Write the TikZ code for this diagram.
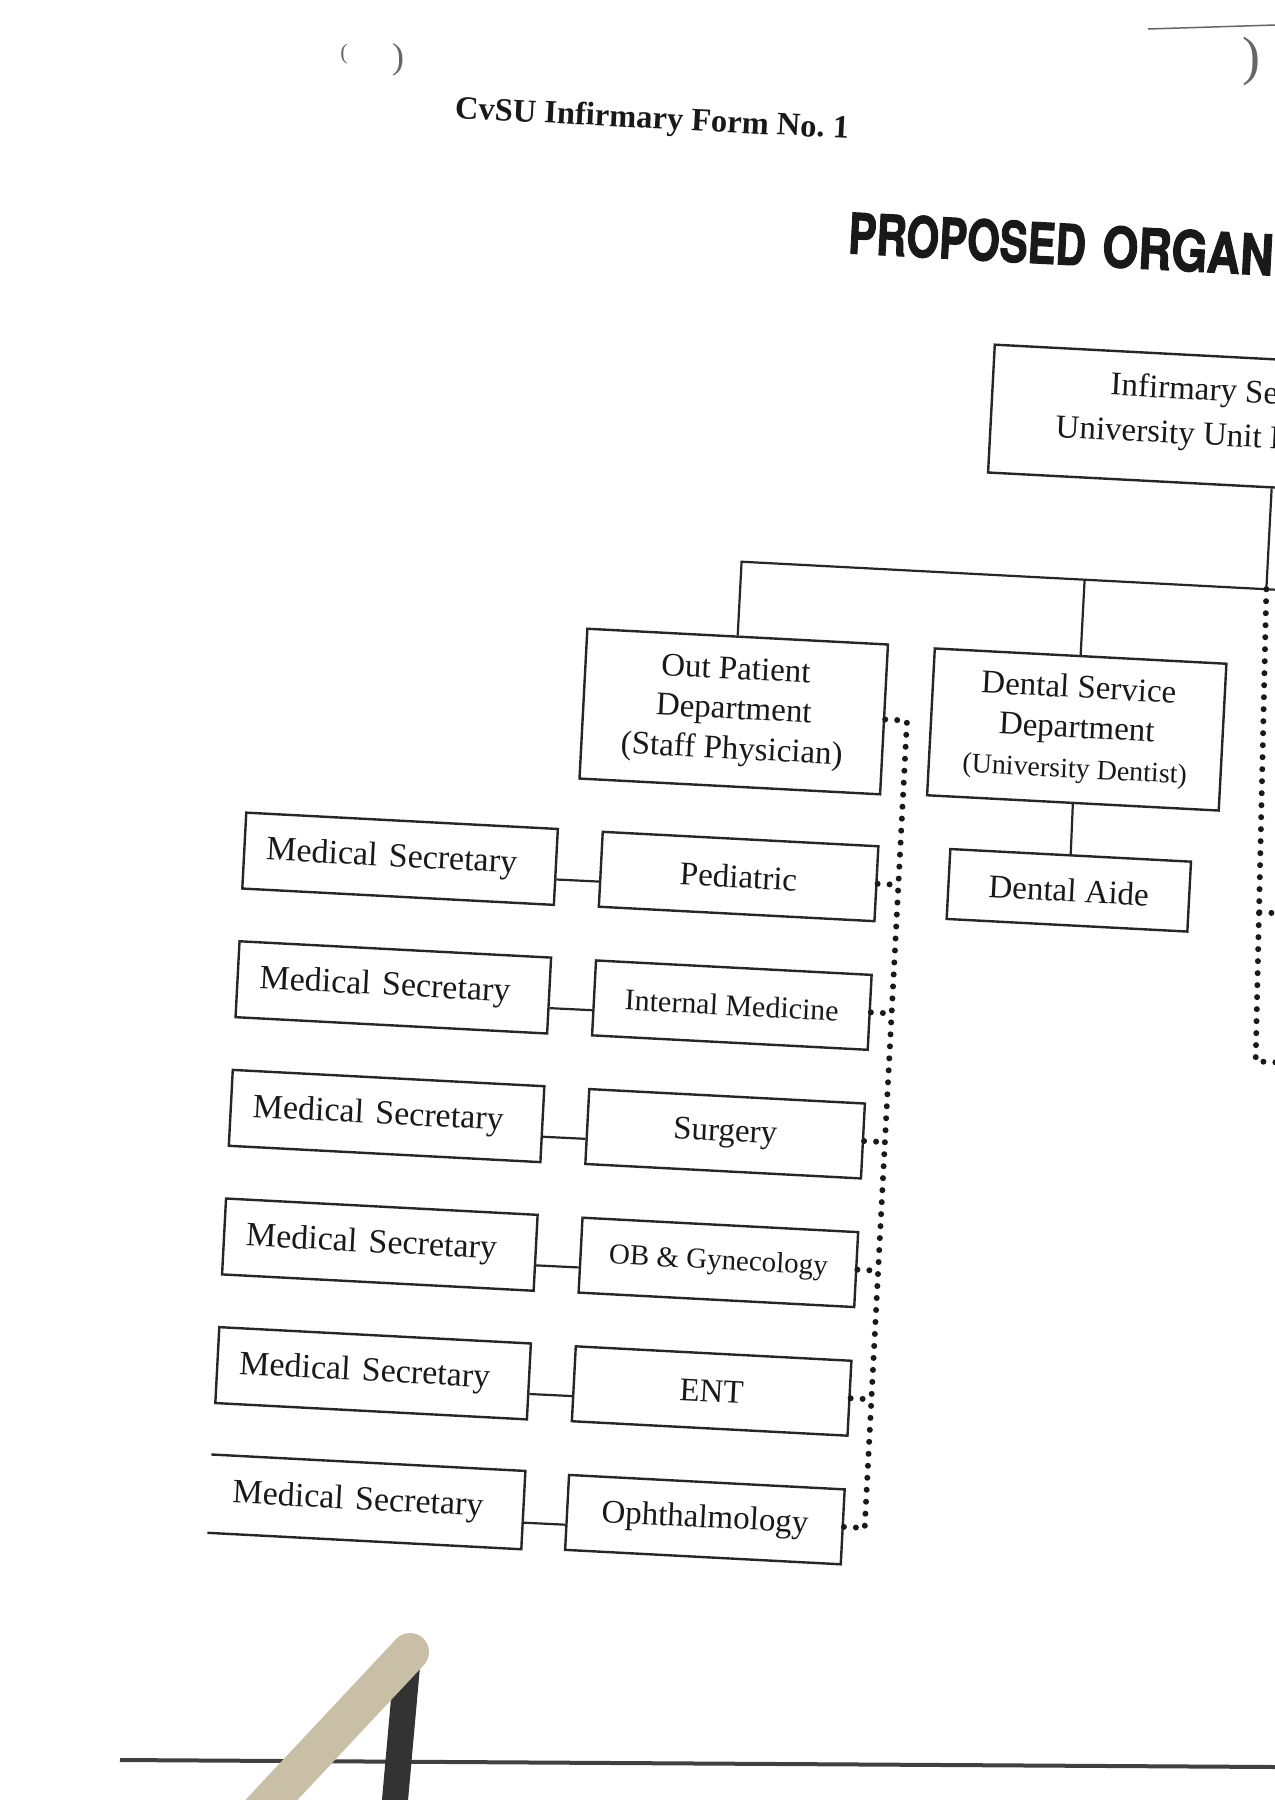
\documentclass[tikz,border=0pt]{standalone}
\usepackage{fontspec}
\setmainfont{Liberation Serif}
\newfontfamily\headfont{TeX Gyre Heros}[BoldFeatures={FakeBold=2}]
\usetikzlibrary{calc}
\begin{document}
\begin{tikzpicture}[x=1pt,y=-1pt,
  boxline/.style={draw=black!85, line width=2.4pt},
  orgbox/.style={boxline, rectangle, inner sep=0pt, align=center, transform shape, text=black!90},
  secbox/.style={orgbox, minimum width=312pt, minimum height=76pt, text width=268pt, inner xsep=22pt, align=left, font=\fontsize{34}{40}\selectfont},
  subbox/.style={orgbox, minimum width=276pt, minimum height=75pt, font=\fontsize{33}{40}\selectfont},
  deptbox/.style={orgbox, font=\fontsize{33}{40}\selectfont},
  solidlink/.style={line width=2.2pt, draw=black!85},
  dotlink/.style={line width=6pt, line cap=round, dash pattern=on 0pt off 12pt, draw=black!90},
  txt/.style={inner sep=0pt, transform shape, text=black!90},
  pagemark/.style={inner sep=0pt, text=black!60}
]
\useasboundingbox (0,0) rectangle (1275,1800);
\begin{scope}
\clip (0,0) rectangle (1275,1800);
\fill[white] (0,0) rectangle (1275,1800);

% page marks (not rotated)
\node[pagemark, font=\fontsize{22}{22}\selectfont] (pl) at (344,54) {(};
\node[pagemark, font=\fontsize{36}{36}\selectfont] (pr) at (398,60) {)};
\node[pagemark, font=\fontsize{54}{54}\selectfont] (pr2) at (1251,62) {)};
\draw[black!60, line width=1.5pt] (1148,29) -- (1275,25);

\begin{scope}[rotate around={-3:(640,1000)}]
% titles
\node[txt, font=\fontsize{32.5}{38}\selectfont\bfseries] (form) at (606,121) {CvSU Infirmary Form No.\ 1};
\node[txt, anchor=west, xscale=0.75, text=black!90, font=\headfont\bfseries\fontsize{56}{60}\selectfont] (title) at (808,223) {PROPOSED\hspace{22pt}\scalebox{1.1}[1]{ORGANIZATIONAL STRUCTURE}};

% head box
\node[orgbox, minimum width=568pt, minimum height=128pt] (inf) at (1244,391) {};
\node[txt, anchor=base west, font=\fontsize{33}{40}\selectfont] (inft1) at (1077.7,371.2) {Infirmary Services};
\node[txt, anchor=base west, font=\fontsize{33}{40}\selectfont] (inft2) at (1025,416.1) {University Unit Head};

% departments
\node[deptbox, minimum width=301pt, minimum height=150pt] (opd) at (718.5,707) {Out Patient\\Department\\(Staff Physician)};
\node[deptbox, minimum width=292pt, minimum height=147pt] (dsd) at (1062,707) {Dental Service\\Department\\{\fontsize{28}{34}\selectfont (University Dentist)}};
\node[deptbox, minimum width=241pt, minimum height=70pt] (aide) at (1062.5,868) {Dental Aide};

% secretaries
\node[secbox] (ms1) at (393,871.5) {Medical Secretary};
\node[secbox] (ms2) at (393,1000.3) {Medical Secretary};
\node[secbox] (ms3) at (393,1129.1) {Medical Secretary};
\node[secbox] (ms4) at (393,1257.9) {Medical Secretary};
\node[secbox] (ms5) at (393,1386.7) {Medical Secretary};
\node[secbox, draw=none] (ms6) at (393,1515.5) {Medical Secretary};
\draw[boxline] (ms6.north west) -- (ms6.north east) -- (ms6.south east) -- (ms6.south west);

% sub departments
\node[subbox] (sub1) at (732,871.5) {Pediatric};
\node[subbox, font=\fontsize{30}{36}\selectfont] (sub2) at (732,1000.3) {Internal Medicine};
\node[subbox] (sub3) at (732,1129.1) {Surgery};
\node[subbox, font=\fontsize{29}{36}\selectfont] (sub4) at (732,1257.9) {OB \& Gynecology};
\node[subbox] (sub5) at (732,1386.7) {ENT};
\node[subbox] (sub6) at (732,1515.5) {Ophthalmology};

% secretary links
\foreach \i in {1,...,6}
  \draw[solidlink] ($(ms\i.south east)!0.34!(ms\i.north east)$) -- ($(sub\i.south west)!0.34!(sub\i.north west)$);

% tree
\coordinate (bl) at (718.5,557);
\coordinate (bd) at (1062,557);
\coordinate (bc) at (1244,557);
\coordinate (br) at (1340,557);
\draw[solidlink] (opd.north) -- (bl) -- (br);
\draw[solidlink] (bd) -- (dsd.north);
\draw[solidlink] (inf.south) -- (bc);
\draw[solidlink] (dsd.south) -- (aide.north);

% dotted line of the out patient department
\coordinate (dtop) at (892,707);
\coordinate (dj1) at (892,871.5);
\coordinate (dj2) at (892,1000.3);
\coordinate (dj3) at (892,1129.1);
\coordinate (dj4) at (892,1257.9);
\coordinate (dj5) at (892,1386.7);
\coordinate (dj6) at (892,1515.5);
\draw[dotlink] (opd.east) -- (dtop) -- (dj6);
\foreach \i in {1,...,6}
  \draw[dotlink] (sub\i.east) -- (dj\i);

% dotted line on the right
\coordinate (rj1) at (1254,880);
\coordinate (rj2) at (1258,1029);
\coordinate (re1) at (1340,880);
\coordinate (re2) at (1340,1029);
\draw[dotlink] (bc) -- (rj2) -- (re2);
\draw[dotlink] (rj1) -- (re1);
\end{scope}

% page edge and pen
\draw[black!75, line width=4pt] (120,1760) -- (1275,1767);
\draw[black!80, line width=26pt, line cap=round] (408,1655) -- (395,1800);
\draw[line width=38pt, line cap=round, color={rgb,255:red,201;green,191;blue,166}] (410,1652) -- (262,1810);
\end{scope}
\end{tikzpicture}
\end{document}
